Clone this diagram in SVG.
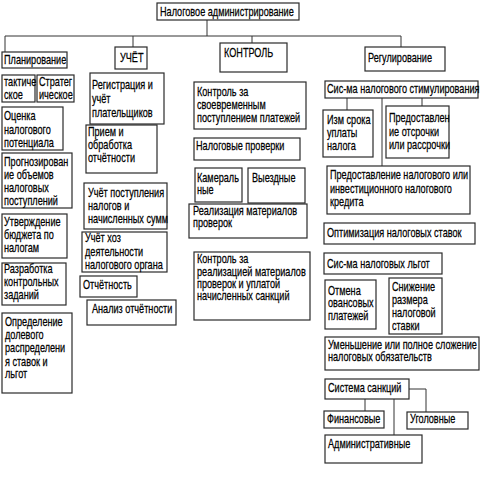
<svg xmlns="http://www.w3.org/2000/svg" width="492" height="501" viewBox="0 0 492 501">
<style>
rect{fill:#fff;stroke:#2a2a2a;stroke-width:1.2}
text{font-family:"Liberation Sans",Arial,sans-serif;font-size:12.5px;fill:#000;stroke:#000;stroke-width:.25;transform:scaleX(.73);transform-box:fill-box;transform-origin:0 0}
.c line,.c polyline{stroke:#333;stroke-width:1;fill:none}
</style>
<rect x="0" y="0" width="492" height="501" style="stroke:none"/>
<g class="c" id="connectors">
<line x1="207" y1="20" x2="207" y2="36"/>
<line x1="5" y1="36" x2="401" y2="36"/>
<line x1="5" y1="36" x2="5" y2="52"/>
<line x1="133" y1="36" x2="133" y2="47"/>
<line x1="252" y1="36" x2="252" y2="43"/>
<line x1="401" y1="36" x2="401" y2="47"/>
<line x1="347" y1="98" x2="347" y2="110"/>
<line x1="382" y1="98" x2="382" y2="166"/>
<line x1="422" y1="98" x2="422" y2="106"/>
<polyline points="409,389 426,389 426,412"/>
<line x1="365" y1="399" x2="365" y2="411"/>
<line x1="394" y1="399" x2="394" y2="435"/>
</g>
<g id="root"><rect x="157" y="3" width="142" height="17"/><text x="160" y="16">Налоговое администрирование</text></g>
<g id="planning"><rect x="2" y="52" width="65" height="16"/><text x="4" y="64">Планирование</text></g>
<g id="uchet"><rect x="115" y="47" width="32" height="22"/><text x="120" y="62">УЧЁТ</text></g>
<g id="kontrol"><rect x="220" y="43" width="67" height="29"/><text x="224" y="57">КОНТРОЛЬ</text></g>
<g id="regul"><rect x="365" y="47" width="80" height="24"/><text x="368" y="62">Регулирование</text></g>

<g id="takt"><rect x="2" y="75" width="33" height="27"/><text x="4" y="86">тактиче</text><text x="4" y="99">ское</text></g>
<g id="strat"><rect x="37" y="75" width="37" height="27"/><text x="39" y="86">Стратег</text><text x="39" y="99">ическое</text></g>
<g id="ocenka"><rect x="2" y="107" width="61" height="43"/><text x="4" y="120">Оценка</text><text x="4" y="134">налогового</text><text x="4" y="147">потенциала</text></g>
<g id="prognoz"><rect x="2" y="153" width="70" height="55"/><text x="4" y="166">Прогнозирован</text><text x="4" y="179">ие объемов</text><text x="4" y="192">налоговых</text><text x="4" y="205">поступлений</text></g>
<g id="utv"><rect x="2" y="214" width="65" height="44"/><text x="4" y="226">Утверждение</text><text x="4" y="239">бюджета по</text><text x="4" y="252">налогам</text></g>
<g id="razrab"><rect x="2" y="263" width="64" height="42"/><text x="4" y="273">Разработка</text><text x="4" y="286">контрольных</text><text x="4" y="299">заданий</text></g>
<g id="opred"><rect x="2" y="313" width="70" height="80"/><text x="5" y="326">Определение</text><text x="5" y="339">долевого</text><text x="5" y="352">распределени</text><text x="5" y="366">я ставок и</text><text x="5" y="378">льгот</text></g>

<g id="reg"><rect x="90" y="73" width="74" height="51"/><text x="92" y="89">Регистрация и</text><text x="92" y="103">учёт</text><text x="92" y="117">плательщиков</text></g>
<g id="priem"><rect x="86" y="125" width="71" height="48"/><text x="88" y="136">Прием и</text><text x="88" y="149">обработка</text><text x="88" y="162">отчётности</text></g>
<g id="uchpost"><rect x="84" y="183" width="83" height="46"/><text x="88" y="197">Учёт поступления</text><text x="88" y="210">налогов и</text><text x="88" y="223">начисленных сумм</text></g>
<g id="uchhoz"><rect x="82" y="232" width="85" height="40"/><text x="85" y="242">Учёт хоз</text><text x="85" y="256">деятельности</text><text x="85" y="269">налогового органа</text></g>
<g id="otch"><rect x="80" y="276" width="57" height="21"/><text x="83" y="289">Отчётность</text></g>
<g id="analiz"><rect x="87" y="300" width="89" height="25"/><text x="92" y="313">Анализ отчётности</text></g>

<g id="kontrsvoevr"><rect x="194" y="82" width="112" height="47"/><text x="197" y="96">Контроль за</text><text x="197" y="109">своевременным</text><text x="197" y="122">поступлением платежей</text></g>
<g id="nalprov"><rect x="194" y="138" width="106" height="22"/><text x="196" y="150">Налоговые проверки</text></g>
<g id="kameral"><rect x="195" y="168" width="47" height="34"/><text x="197" y="182">Камераль</text><text x="197" y="194">ные</text></g>
<g id="vyezd"><rect x="248" y="168" width="57" height="35"/><text x="252" y="182">Выездные</text></g>
<g id="realiz"><rect x="189" y="204" width="118" height="34"/><text x="193" y="215">Реализация материалов</text><text x="193" y="227">проверок</text></g>
<g id="kontrreal"><rect x="194" y="252" width="116" height="68"/><text x="197" y="263">Контроль за</text><text x="197" y="276">реализацией материалов</text><text x="197" y="288">проверок и уплатой</text><text x="197" y="300">начисленных санкций</text></g>

<g id="stim"><rect x="325" y="81" width="153" height="17"/><text x="327" y="93">Сис-ма налогового стимулирования</text></g>
<g id="izm"><rect x="323" y="110" width="50" height="47"/><text x="327" y="124">Изм срока</text><text x="327" y="137">уплаты</text><text x="327" y="150">налога</text></g>
<g id="otsr"><rect x="386" y="106" width="63" height="52"/><text x="389" y="122">Предоставлен</text><text x="389" y="136">ие отсрочки</text><text x="389" y="149">или рассрочки</text></g>
<g id="kredit"><rect x="327" y="166" width="143" height="48"/><text x="330" y="179">Предоставление налогового или</text><text x="330" y="193">инвестиционного налогового</text><text x="330" y="206">кредита</text></g>
<g id="optim"><rect x="324" y="223" width="151" height="21"/><text x="327" y="237">Оптимизация налоговых ставок</text></g>
<g id="lgot"><rect x="324" y="253" width="118" height="21"/><text x="327" y="268">Сис-ма налоговых льгот</text></g>
<g id="otmena"><rect x="325" y="280" width="51" height="49"/><text x="328" y="295">Отмена</text><text x="328" y="307">овансовых</text><text x="328" y="320">платежей</text></g>
<g id="snizh"><rect x="389" y="278" width="53" height="56"/><text x="392" y="291">Снижение</text><text x="392" y="304">размера</text><text x="392" y="317">налоговой</text><text x="392" y="330">ставки</text></g>
<g id="umensh"><rect x="325" y="337" width="154" height="33"/><text x="328" y="349">Уменьшение или полное сложение</text><text x="328" y="361">налоговых обязательств</text></g>
<g id="sankc"><rect x="325" y="379" width="84" height="20"/><text x="328" y="392">Система санкций</text></g>
<g id="fin"><rect x="324" y="411" width="60" height="17"/><text x="327" y="423">Финансовые</text></g>
<g id="ugol"><rect x="407" y="412" width="61" height="17"/><text x="410" y="423">Уголовные</text></g>
<g id="admin"><rect x="325" y="435" width="97" height="28"/><text x="328" y="448">Административные</text></g>
</svg>
